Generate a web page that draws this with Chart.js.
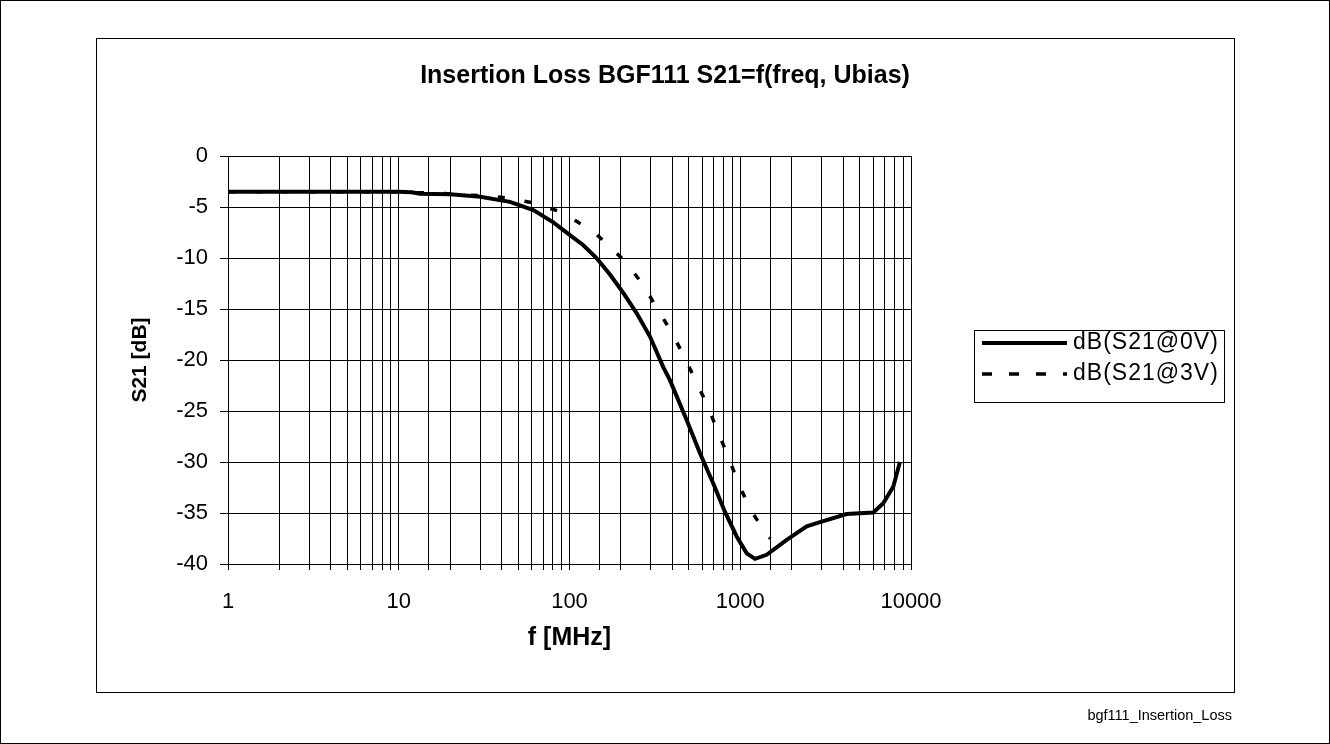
<!DOCTYPE html>
<html><head><meta charset="utf-8">
<script src="https://cdn.jsdelivr.net/npm/chart.js@4.4.1/dist/chart.umd.min.js"></script>
<style>html,body{margin:0;padding:0;background:#fff;}canvas{display:block;}</style>
</head><body>
<canvas id="c" width="1330" height="744"></canvas>
<script>
// ---- data ----
const chartTitle = 'Insertion Loss BGF111 S21=f(freq, Ubias)';
const xTitle = 'f [MHz]';
const yTitle = 'S21 [dB]';
const footerText = 'bgf111_Insertion_Loss';
const seriesNames = ['dB(S21@0V)', 'dB(S21@3V)'];

const freq0V = [1, 2, 5, 10, 11.9, 13.3, 20, 30, 44.8, 61.4, 80.4, 100.6, 120.5, 144, 173, 207, 247, 296, 354, 388, 486, 581, 695, 814, 953, 1091, 1220, 1428, 1862, 2450, 2931, 4200, 6010, 6880, 7880, 8610];
const s21_0V = [-3.5, -3.5, -3.5, -3.5, -3.55, -3.7, -3.75, -4.0, -4.5, -5.3, -6.5, -7.75, -8.75, -10.0, -11.65, -13.45, -15.4, -17.7, -20.7, -22.0, -25.9, -29.15, -32.1, -34.9, -37.3, -38.95, -39.5, -39.1, -37.65, -36.3, -35.9, -35.1, -34.95, -34.05, -32.4, -30.0];

const freq3V = [1, 5, 10, 12, 15.9, 22.9, 32.7, 44.8, 61.4, 86, 110, 144, 177, 216, 273, 327, 397, 464, 547, 641, 734, 851, 975, 1151, 1428, 1500];
const s21_3V = [-3.5, -3.5, -3.5, -3.6, -3.6, -3.8, -3.9, -4.15, -4.6, -5.4, -6.4, -7.7, -9.05, -10.5, -12.75, -15.0, -17.3, -19.5, -22.0, -24.4, -26.9, -29.5, -32.1, -34.7, -37.15, -37.5];

const xTickLabels = [1, 10, 100, 1000, 10000];
const yTickValues = [0, -5, -10, -15, -20, -25, -30, -35, -40];

// ---- chart ----
const FONT = "'Liberation Sans', Arial, Helvetica, sans-serif";
const toPts = (xs, ys) => xs.map((x, i) => ({x: x, y: ys[i]}));

const framePlugin = {
  id: 'frames',
  beforeDraw(chart) {
    const c = chart.ctx;
    c.save();
    c.fillStyle = '#fff';
    c.fillRect(0, 0, chart.width, chart.height);
    c.strokeStyle = '#000';
    c.lineWidth = 1;
    c.strokeRect(0.5, 0.5, chart.width - 1, chart.height - 1);
    c.strokeRect(96.5, 38.5, 1138, 654);
    c.restore();
  },
  afterDraw(chart) {
    const c = chart.ctx;
    c.save();
    // legend
    const bx = 974.5, by = 330.5, bw = 250, bh = 72;
    c.strokeStyle = '#000';
    c.lineWidth = 1;
    c.strokeRect(bx, by, bw, bh);
    const rows = [343, 374];
    chart.data.datasets.forEach((ds, i) => {
      const y = rows[i];
      c.beginPath();
      c.setLineDash(ds.legendDash || []);
      c.lineWidth = ds.borderWidth;
      c.strokeStyle = ds.borderColor;
      c.moveTo(982, y);
      c.lineTo(1067, y);
      c.stroke();
      c.setLineDash([]);
      c.fillStyle = '#000';
      c.font = '23px ' + FONT;
      if ('letterSpacing' in c) c.letterSpacing = '1px';
      c.textAlign = 'left';
      c.textBaseline = 'middle';
      c.fillText(ds.label, 1073, y);
      if ('letterSpacing' in c) c.letterSpacing = '0px';
    });
    // footer
    c.font = '14.5px ' + FONT;
    c.textAlign = 'right';
    c.textBaseline = 'middle';
    c.fillStyle = '#000';
    c.fillText(footerText, 1232, 716);
    c.restore();
  }
};

new Chart(document.getElementById('c').getContext('2d'), {
  type: 'scatter',
  data: {
    datasets: [
      {label: seriesNames[0], data: toPts(freq0V, s21_0V), showLine: true, borderColor: '#000', borderWidth: 4, pointRadius: 0, tension: 0, fill: false},
      {label: seriesNames[1], data: toPts(freq3V, s21_3V), showLine: true, borderColor: '#000', borderWidth: 3.5, borderDash: [7, 20], legendDash: [10, 17], pointRadius: 0, tension: 0, fill: false}
    ]
  },
  options: {
    responsive: false,
    animation: false,
    layout: {padding: 0},
    plugins: {
      legend: {display: false},
      tooltip: {enabled: false},
      title: {display: true, text: chartTitle, color: '#000', font: {family: FONT, size: 25, weight: 'bold', lineHeight: 1.2}, padding: {top: 61, bottom: 65}}
    },
    scales: {
      x: {
        type: 'logarithmic', position: 'bottom', min: 1, max: 10000,
        grid: {color: '#000', lineWidth: 1, drawTicks: true, tickLength: 6, tickColor: '#000'},
        border: {color: '#000', width: 1},
        ticks: {
          autoSkip: false, maxRotation: 0, minRotation: 0, padding: 19, color: '#000',
          font: {family: FONT, size: 22},
          callback: (v) => {
            const hit = xTickLabels.find(t => Math.abs(t - v) < 1e-6 * t);
            return hit !== undefined ? String(hit) : '';
          }
        },
        title: {display: true, text: xTitle, color: '#000', font: {family: FONT, size: 25, weight: 'bold', lineHeight: 1.2}, padding: {top: 0, bottom: 91}},
        afterFit: (s) => { s.height = 180; }
      },
      y: {
        position: 'left', min: -40, max: 0,
        grid: {color: '#000', lineWidth: 1, drawTicks: true, tickLength: 8, tickColor: '#000'},
        border: {color: '#000', width: 1},
        ticks: {stepSize: 5, padding: 12, color: '#000', font: {family: FONT, size: 22},
          callback: (v) => yTickValues.includes(v) ? String(v) : ''},
        title: {display: true, text: yTitle, color: '#000', font: {family: FONT, size: 21, weight: 'bold', lineHeight: 1.2}, padding: {top: 127.4, bottom: 0}},
        afterFit: (s) => { s.width = 228; }
      },
      yR: {
        position: 'right', display: true, min: -40, max: 0,
        grid: {display: false}, border: {display: false}, ticks: {display: false}, title: {display: false},
        afterFit: (s) => { s.width = 419; }
      }
    }
  },
  plugins: [framePlugin]
});
</script>
</body></html>
